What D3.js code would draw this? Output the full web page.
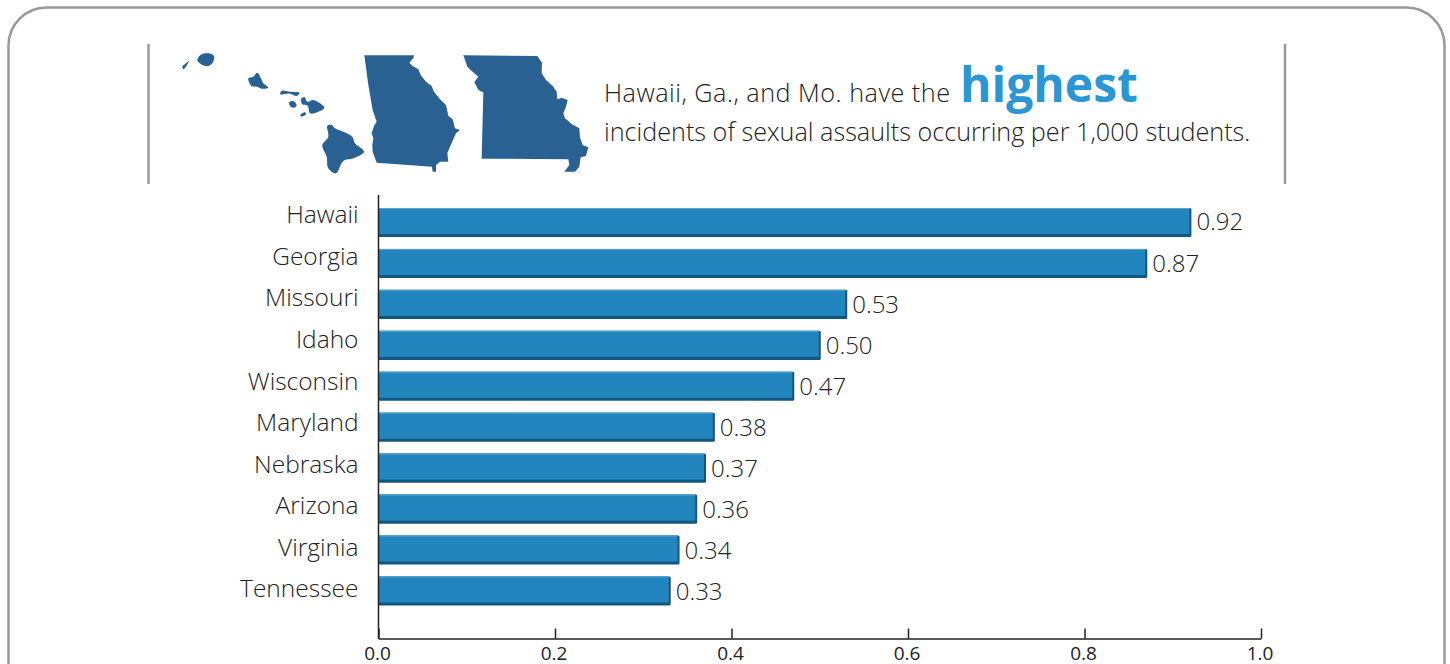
<!DOCTYPE html>
<html>
<head>
<meta charset="utf-8">
<title>sexual assaults per 1,000 students</title>
<style>
  body{margin:0;background:#fff;overflow:hidden;}
  svg{display:block;}
  text{font-family:"Open Sans",sans-serif;font-weight:300;fill:#222;}
</style>
</head>
<body>
<div id="container"></div>
<script src="https://cdn.jsdelivr.net/npm/d3@7"></script>
<script>
var states = ["Hawaii","Georgia","Missouri","Idaho","Wisconsin","Maryland","Nebraska","Arizona","Virginia","Tennessee"];
var rates = [0.92,0.87,0.53,0.50,0.47,0.38,0.37,0.36,0.34,0.33];
var xTicks = [0,0.2,0.4,0.6,0.8,1.0];

// outlines, 3x crop units, each set with its crop origin
var georgia = [[13,16],[162,16],[160,24],[148,38],[158,48],[175,58],[182,75],[198,95],[215,108],[222,125],[240,148],[258,165],[265,197],[278,208],[285,235],[300,240],[288,250],[280,268],[270,290],[262,310],[265,335],[240,335],[228,345],[228,365],[218,365],[216,350],[50,338],[38,305],[37,285],[40,265],[35,250],[42,228],[50,215],[38,180],[25,105]];
var missouri = [[10,16],[232,18],[246,38],[245,70],[258,90],[278,108],[290,125],[292,148],[305,143],[323,150],[318,170],[310,190],[315,205],[335,222],[358,235],[360,262],[368,285],[385,292],[378,318],[362,322],[358,350],[345,365],[313,365],[328,345],[325,328],[65,326],[70,127],[55,120],[43,96],[55,80],[38,65],[22,50]];
var northIslands = [
  [[67,30],[78,14],[100,10],[117,18],[113,38],[100,48],[82,45]],
  [[22,50],[30,42],[41,33],[35,47],[25,57]],
  [[220,85],[235,80],[247,68],[258,85],[265,100],[280,113],[262,116],[245,110],[230,108]],
  [[320,122],[345,125],[374,128],[365,138],[345,131],[316,133]]
];
var southIslands = [
  [[42,52],[55,48],[65,60],[58,68],[48,66]],
  [[78,42],[88,36],[97,50],[115,45],[135,55],[148,68],[130,80],[105,85],[98,62],[82,58]],
  [[76,90],[90,82],[93,88],[80,95]],
  [[157,122],[170,120],[180,130],[205,140],[232,155],[240,175],[267,200],[235,220],[205,228],[183,265],[160,250],[155,215],[142,180],[160,155]]
];

var svg = d3.select("#container").append("svg")
    .attr("width",1450)
    .attr("height",664);

// frame
svg.append("rect")
    .attr("x",8.5).attr("y",7.5)
    .attr("width",1436).attr("height",720)
    .attr("rx",38)
    .attr("fill","none").attr("stroke","#999").attr("stroke-width",2.5);

// side rules of the header
[148.5,1285].forEach(function(x){
  svg.append("line")
      .attr("x1",x).attr("x2",x).attr("y1",44).attr("y2",184)
      .attr("stroke","#999").attr("stroke-width",2.5);
});

// map
function drawShapes(list,ox,oy,curve){
  var outline = d3.line().curve(curve);
  svg.append("g")
      .attr("transform","translate("+ox+","+oy+") scale(0.3333)")
    .selectAll("path")
    .data(list)
    .join("path")
      .attr("d",outline)
      .attr("fill","#296192");
}
drawShapes([georgia],360,50,d3.curveLinearClosed);
drawShapes([missouri],460,50,d3.curveLinearClosed);
drawShapes(northIslands,175,50,d3.curveCatmullRomClosed.alpha(0.5));
drawShapes(southIslands,275,85,d3.curveCatmullRomClosed.alpha(0.5));

// header text
svg.append("text").attr("x",604).attr("y",102).style("font-size","25.2px").style("letter-spacing","0.5px")
    .text("Hawaii, Ga., and Mo. have the");
svg.append("text").attr("x",960).attr("y",102)
    .style("font-size","48px").style("font-weight","700").style("fill","#2a96d4")
    .text("highest");
svg.append("text").attr("x",604).attr("y",141).style("font-size","25.2px")
    .text("incidents of sexual assaults occurring per 1,000 students.");

// scales
var x = d3.scaleLinear().domain([0,1]).range([378.5,1261]);
var y = d3.scaleBand().domain(states).range([208,605.5]).paddingInner(0.29);
// the state names and the value labels do not sit quite on the bar rows
var yName = d3.scalePoint().domain(states).range([215,589]);
var yValue = d3.scalePoint().domain(states).range([222,592]);

var bars = svg.append("g").selectAll("g")
  .data(states)
  .join("g");

// dark edge, then the face, then the light top
bars.append("rect")
    .attr("x",x(0))
    .attr("y",function(d){return y(d);})
    .attr("width",function(d,i){return x(rates[i])-x(0)+1;})
    .attr("height",y.bandwidth())
    .attr("rx",1.5)
    .attr("fill","#12577f");
bars.append("rect")
    .attr("x",x(0))
    .attr("y",function(d){return y(d);})
    .attr("width",function(d,i){return x(rates[i])-x(0)-1;})
    .attr("height",y.bandwidth()-3)
    .attr("fill","#2385be");
bars.append("rect")
    .attr("x",x(0))
    .attr("y",function(d){return y(d);})
    .attr("width",function(d,i){return x(rates[i])-x(0)-1;})
    .attr("height",1)
    .attr("fill","#5ba6d2");

// value labels
svg.append("g").selectAll("text")
  .data(states)
  .join("text")
    .attr("x",function(d,i){return x(rates[i])+6;})
    .attr("y",function(d){return yValue(d);})
    .attr("dy","0.35em")
    .style("font-size","24px")
    .text(function(d,i){return rates[i].toFixed(2);});

// axes
var yAxis = svg.append("g")
    .attr("transform","translate(378.5,0)")
    .call(d3.axisLeft(yName).tickSize(0).tickPadding(20));
yAxis.select(".domain").remove();
yAxis.selectAll("text").style("font-size","24.5px");
svg.append("line")
    .attr("x1",378.5).attr("x2",378.5).attr("y1",195).attr("y2",639)
    .attr("stroke","#222").attr("stroke-width",1.5);

var xAxis = svg.append("g")
    .attr("transform","translate(0,638.5)")
    .call(d3.axisBottom(x).tickValues(xTicks).tickFormat(d3.format(".1f")).tickSizeOuter(0).tickSizeInner(-10).tickPadding(8));
xAxis.selectAll("path,line").attr("stroke","#222").attr("stroke-width",1.5);
xAxis.selectAll("text").attr("x",-1.5).attr("dy","0.71em").style("font-size","19px").style("font-weight","400");
</script>
</body>
</html>
